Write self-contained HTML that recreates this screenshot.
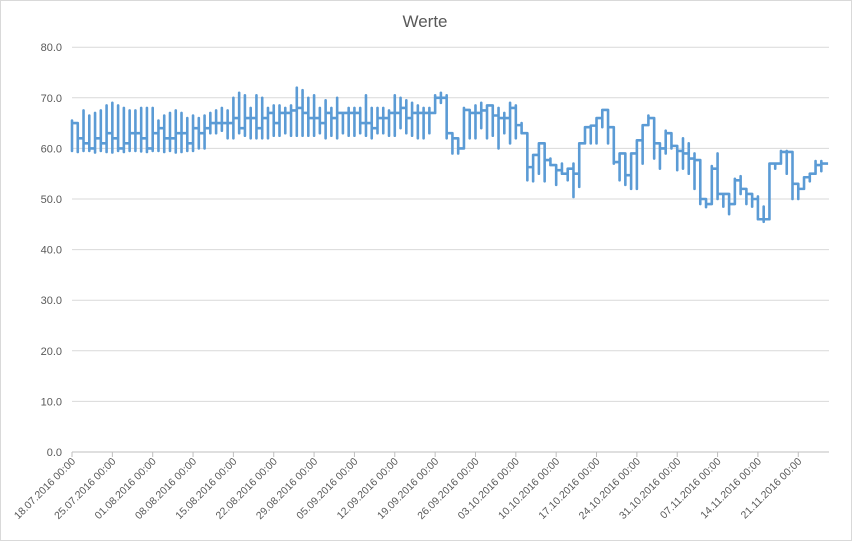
<!DOCTYPE html>
<html><head><meta charset="utf-8"><style>
html,body{margin:0;padding:0;background:#fff;}
svg{display:block;font-family:"Liberation Sans",sans-serif;}
</style></head><body>
<svg id="chart" width="853" height="542" viewBox="0 0 853 542">
<rect x="0.5" y="0.5" width="851" height="540" fill="#fff" stroke="#d9d9d9"/>
<text x="425" y="27" text-anchor="middle" font-size="17" fill="#595959">Werte</text>
<g id="grid"></g><g id="yl"></g><g id="xl"></g><g id="series"></g>
</svg>
<script>
const tickLabels=["18.07.2016 00:00","25.07.2016 00:00","01.08.2016 00:00","08.08.2016 00:00","15.08.2016 00:00","22.08.2016 00:00","29.08.2016 00:00","05.09.2016 00:00","12.09.2016 00:00","19.09.2016 00:00","26.09.2016 00:00","03.10.2016 00:00","10.10.2016 00:00","17.10.2016 00:00","24.10.2016 00:00","31.10.2016 00:00","07.11.2016 00:00","14.11.2016 00:00","21.11.2016 00:00"];
const yTicks=[0,10,20,30,40,50,60,70,80];
const dailyHigh=[65.5,65,67.5,66.5,67,67.5,68.5, 69,68.5,68,67.5,67.5,68,68, 68,65.5,66.5,67,67.5,67,66, 66.5,66,66.5,67,67.5,68,67.5, 70,71,70.5,68,70.5,70,68, 68.5,68.5,68,68.5,72,71.5,70, 70.5,68,69.5,68,70,67,68, 68,68,70.5,68,68,68,67.5, 70.5,70,69.5,69,68.5,68,68,
70.5,71,70.5,62,60,68,67.5, 68.5,69,68,68.5,68,67,69,
68.5,65,63,58.7,61,61,58, 56,57,56,57,61,64.2,64.5, 66,67.6,67.6,64.2,59,59,59, 59,64.6,66.5,66,60,63.5,62,
60.5,62,61,59,50,49,56.5, 59,51,49,54,54.5,51,50, 50.5,48.5,57,57,59.5,59.5,53, 52,54.3,55,57.5,57.5];
const dailyLow=[59.5,59.3,59.5,59.5,59.2,59.5,59.3, 59.2,59.5,59.3,59.5,59.5,59.4,59.3, 59.5,59.5,59.3,59.5,59.2,59.3,59.5, 59.5,60,60,63,63,63.5,62, 62,63,62.5,62,62,62,62, 62.5,62.5,63,62.5,62.5,62.5,62.5, 62.5,63,62,62.5,62,63,62.5, 62.5,63,62.5,62,63,63,62.5, 62.5,64,63,62.5,62,62,63,
68,69,62,59,59,60,62, 62,64,62,62.5,60,63,61,
62,63,53.7,53.5,55,53.5,56.7, 52.8,55,53.7,50.4,52.4,61,61, 61,64.2,61,57,53.7,52.8,52, 52,57,64.6,58,56,59,60,
55.7,56,55,52,49,48.4,49, 50,48.5,47,49,51,49,48.5, 46,45.5,46,56,57,55,50, 50,52,53.5,55,55.5];
const dailyLast=[65,62,61,60,62,61,63, 62,60,61,63,63,62,60, 63,64,62,62,63,63,61, 64,63,64,65,65,65,65, 66,64,66,66,64,66,67, 65,67,67,67.5,68,67,66, 66,65,67,66,67,67,67, 67,65,65,64,66,66,67, 67,68,66,67,67,67,67,
70,70,63,62,60,67.6,67, 67,67.5,68.5,66.5,66,66,68,
64.6,63,56.3,58.7,61,57.7,56.7, 55.7,55,56,55,61,64.2,64.5, 66,67.6,64.2,57.3,59,54.7,59, 61.6,64.6,66,61,60,63,60.5,
59.5,59,58,57.7,50,49,56, 51,51,49,53.7,52,51,50, 46,46,57,57,59.3,59.3,53, 52,54.3,55,56.7,57];
const X0=72,DAY=5.764,Y0=452,YS=5.06;
const xs=d=>X0+d*DAY, ys=v=>Y0-v*YS;
const NS="http://www.w3.org/2000/svg";
function mk(t,a,p){const e=document.createElementNS(NS,t);for(const k in a)e.setAttribute(k,a[k]);p.appendChild(e);return e;}
const grid=document.getElementById('grid'),yl=document.getElementById('yl'),xl=document.getElementById('xl'),ser=document.getElementById('series');
yTicks.forEach(v=>{
 const l=mk('line',{x1:X0,x2:829,y1:ys(v),y2:ys(v),stroke:v===0?'#bfbfbf':'#d9d9d9','stroke-width':1},grid);
 
 
 const t=mk('text',{x:62,y:ys(v)+4,'text-anchor':'end','font-size':11,fill:'#595959'},yl);
 t.textContent=v.toFixed(1);
 
 
});
tickLabels.forEach((s,i)=>{
 const x=xs(i*7);
 const tk=mk('line',{x1:x,x2:x,y1:Y0,y2:Y0+5,stroke:'#bfbfbf'},grid);
 
 
 const t=mk('text',{x:x+4,y:Y0+10,'text-anchor':'end','font-size':10.5,fill:'#595959',transform:`rotate(-45 ${x+4} ${Y0+10})`},xl);
 t.textContent=s;
 
 
});
let d='',prev=dailyLast[0];
d+=`M${xs(0)},${ys(prev)}`;
for(let i=0;i<dailyLast.length;i++){
 const x=xs(i);
 const hi=Math.max(dailyHigh[i],prev,dailyLast[i]),lo=Math.min(dailyLow[i],prev,dailyLast[i]);
 d+=`L${x},${ys(prev)}L${x},${ys(hi)}L${x},${ys(lo)}L${x},${ys(dailyLast[i])}`;
 prev=dailyLast[i];
}
d+=`L${xs(dailyLast.length)+1},${ys(prev)}`;
const p=mk('path',{d:d,fill:'none',stroke:'#5b9bd5','stroke-width':2.6,'stroke-linejoin':'round'},ser);


</script>
</body></html>
